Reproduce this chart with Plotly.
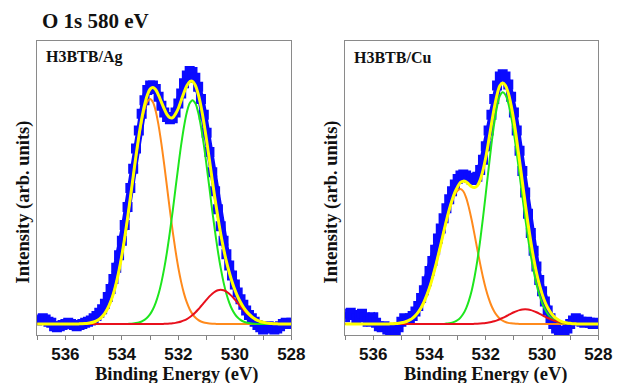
import plotly.graph_objects as go

# Binding energy grid (eV), shared by both panels
ENERGY = [
    537.0, 536.9, 536.8, 536.7, 536.6, 536.5, 536.4, 536.3, 536.2, 536.1,
    536.0, 535.9, 535.8, 535.7, 535.6, 535.5, 535.4, 535.3, 535.2, 535.1,
    535.0, 534.9, 534.8, 534.7, 534.6, 534.5, 534.4, 534.3, 534.2, 534.1,
    534.0, 533.9, 533.8, 533.7, 533.6, 533.5, 533.4, 533.3, 533.2, 533.1,
    533.0, 532.9, 532.8, 532.7, 532.6, 532.5, 532.4, 532.3, 532.2, 532.1,
    532.0, 531.9, 531.8, 531.7, 531.6, 531.5, 531.4, 531.3, 531.2, 531.1,
    531.0, 530.9, 530.8, 530.7, 530.6, 530.5, 530.4, 530.3, 530.2, 530.1,
    530.0, 529.9, 529.8, 529.7, 529.6, 529.5, 529.4, 529.3, 529.2, 529.1,
    529.0, 528.9, 528.8, 528.7, 528.6, 528.5, 528.4, 528.3, 528.2, 528.1,
    528.0,
]

# ---------------- H3BTB/Ag ----------------
AG_DATA = [
    1.5, 2.0, 2.5, 2.0, 1.0, 0.5, -1.0, -1.5, -1.0, -0.5,
    0.0, 0.5, 0.0, -0.5, -1.0, -0.5, 0.0, 0.5, 1.0, 1.5,
    2.5, 3.5, 5.0, 6.5, 9.0, 12.0, 15.5, 20.0, 25.0, 30.5,
    37.0, 44.0, 52.0, 60.5, 69.0, 78.0, 86.0, 93.5, 99.5, 104.0,
    106.0, 106.0, 104.5, 101.0, 97.0, 94.0, 92.0, 91.0, 91.5, 94.0,
    98.0, 102.5, 107.0, 110.5, 112.5, 112.0, 109.5, 105.5, 100.0, 93.0,
    85.0, 76.5, 67.5, 59.0, 51.0, 43.5, 37.0, 31.0, 26.0, 21.5,
    17.5, 14.0, 11.0, 8.5, 6.0, 4.0, 2.5, 1.0, -0.5, -1.5,
    -2.5, -2.0, -1.0, -1.5, -2.5, -2.0, -1.0, 0.0, 0.5, 0.0,
    0.5,
]
AG_ORANGE = [
    0, 0, 0, 0, 0, 0, 0, 0, 0, 0,
    0, 0, 0, 0, 0, 0.05, 0.11, 0.2, 0.33, 0.55,
    0.88, 1.39, 2.16, 3.27, 4.83, 6.97, 9.83, 13.5, 18.2, 23.9,
    30.6, 38.3, 46.9, 56.0, 65.3, 74.4, 82.7, 89.9, 95.4, 98.8,
    100.0, 98.6, 94.6, 88.2, 80.1, 70.7, 60.7, 50.6, 41.1, 32.5,
    24.9, 18.6, 13.5, 9.56, 6.57, 4.39, 2.86, 1.81, 1.11, 0.66,
    0.39, 0.22, 0.12, 0.07, 0, 0, 0, 0, 0, 0,
    0, 0, 0, 0, 0, 0, 0, 0, 0, 0,
    0, 0, 0, 0, 0, 0, 0, 0, 0, 0,
    0,
]
AG_GREEN = [
    0, 0, 0, 0, 0, 0, 0, 0, 0, 0,
    0, 0, 0, 0, 0, 0, 0, 0, 0, 0,
    0, 0, 0, 0, 0, 0, 0, 0, 0, 0,
    0, 0, 0, 0.12, 0.22, 0.39, 0.66, 1.1, 1.8, 2.85,
    4.37, 6.54, 9.51, 13.4, 18.5, 24.8, 32.3, 40.9, 50.3, 60.4,
    70.3, 79.7, 87.8, 94.1, 98.1, 99.5, 98.1, 94.1, 87.8, 79.7,
    70.3, 60.4, 50.3, 40.9, 32.3, 24.8, 18.5, 13.4, 9.51, 6.54,
    4.37, 2.85, 1.8, 1.1, 0.66, 0.39, 0.22, 0.12, 0, 0,
    0, 0, 0, 0, 0, 0, 0, 0, 0, 0,
    0,
]
AG_RED = [
    0, 0, 0, 0, 0, 0, 0, 0, 0, 0,
    0, 0, 0, 0, 0, 0, 0, 0, 0, 0,
    0, 0, 0, 0, 0, 0, 0, 0, 0, 0,
    0, 0, 0, 0, 0, 0, 0, 0, 0, 0,
    0, 0, 0, 0, 0, 0.07, 0.12, 0.19, 0.31, 0.49,
    0.74, 1.09, 1.57, 2.19, 2.99, 3.97, 5.12, 6.43, 7.87, 9.36,
    10.87, 12.25, 13.47, 14.41, 15.0, 15.2, 15.0, 14.41, 13.47, 12.25,
    10.87, 9.36, 7.87, 6.43, 5.12, 3.97, 2.99, 2.19, 1.57, 1.09,
    0.74, 0.49, 0.31, 0.19, 0.12, 0.07, 0, 0, 0, 0,
    0,
]
AG_FIT = [
    0, 0, 0, 0, 0, 0, 0, 0, 0, 0,
    0, 0, 0, 0, 0, 0.05, 0.11, 0.2, 0.33, 0.55,
    0.88, 1.39, 2.16, 3.27, 4.83, 6.97, 9.83, 13.5, 18.2, 23.9,
    30.6, 38.3, 46.9, 56.1, 65.5, 74.8, 83.4, 91.0, 97.2, 101.7,
    104.4, 105.1, 104.1, 101.6, 98.6, 95.6, 93.1, 91.7, 91.7, 93.4,
    95.9, 99.4, 102.9, 105.9, 107.7, 107.9, 106.1, 102.3, 96.8, 89.7,
    81.6, 72.9, 63.9, 55.4, 47.3, 40.0, 33.5, 27.8, 23.0, 18.8,
    15.2, 12.2, 9.67, 7.53, 5.78, 4.36, 3.21, 2.31, 1.57, 1.09,
    0.74, 0.49, 0.31, 0.19, 0.12, 0.07, 0, 0, 0, 0,
    0,
]

# ---------------- H3BTB/Cu ----------------
CU_DATA = [
    3.0, 4.5, 5.0, 4.0, 2.5, 3.5, 4.5, 3.0, 1.0, 2.0,
    3.0, 0.5, -1.0, -1.5, -1.0, -2.5, -3.0, -2.0, -3.0, -1.5,
    1.0, 2.5, 2.0, 2.5, 3.5, 5.5, 8.0, 11.5, 15.0, 19.0,
    23.5, 28.0, 33.0, 38.0, 42.5, 47.0, 51.5, 55.5, 59.0, 62.0,
    64.5, 66.0, 66.5, 66.0, 65.0, 64.0, 64.0, 65.5, 68.5, 73.0,
    79.0, 86.0, 93.0, 100.0, 106.0, 110.0, 111.0, 110.0, 106.5, 101.0,
    94.0, 86.0, 77.0, 68.0, 58.5, 49.0, 40.5, 32.5, 25.5, 19.5,
    14.5, 10.0, 6.0, 2.5, 0.0, -2.0, -3.5, -4.0, -3.0, -2.0,
    0.0, 1.5, 2.5, 2.0, 1.0, 0.5, 1.0, 0.5, 0.0, 0.5,
    0.0,
]
CU_ORANGE = [
    0, 0, 0, 0, 0, 0, 0, 0, 0, 0,
    0, 0, 0, 0, 0, 0, 0.07, 0.12, 0.19, 0.32,
    0.51, 0.79, 1.21, 1.81, 2.63, 3.77, 5.27, 7.2, 9.66, 12.7,
    16.2, 20.3, 25.0, 30.1, 35.3, 40.7, 45.8, 50.5, 54.4, 57.5,
    59.3, 60.0, 59.0, 56.2, 51.7, 46.1, 39.7, 33.1, 26.7, 20.8,
    15.7, 11.5, 8.1, 5.56, 3.67, 2.35, 1.46, 0.87, 0.5, 0.28,
    0.16, 0.08, 0, 0, 0, 0, 0, 0, 0, 0,
    0, 0, 0, 0, 0, 0, 0, 0, 0, 0,
    0, 0, 0, 0, 0, 0, 0, 0, 0, 0,
    0,
]
CU_GREEN = [
    0, 0, 0, 0, 0, 0, 0, 0, 0, 0,
    0, 0, 0, 0, 0, 0, 0, 0, 0, 0,
    0, 0, 0, 0, 0, 0, 0, 0, 0, 0,
    0, 0, 0, 0, 0, 0, 0.18, 0.33, 0.59, 1.03,
    1.74, 2.85, 4.52, 6.96, 10.4, 14.9, 20.9, 28.3, 37.1, 47.2,
    58.0, 69.1, 79.8, 89.2, 96.6, 101.4, 103.0, 101.8, 98.1, 92.3,
    84.8, 75.9, 66.3, 56.7, 47.2, 38.3, 30.4, 23.5, 17.7, 13.1,
    9.41, 6.6, 4.52, 3.03, 1.98, 1.26, 0.78, 0.47, 0.28, 0.16,
    0.09, 0, 0, 0, 0, 0, 0, 0, 0, 0,
    0,
]
CU_RED = [
    0, 0, 0, 0, 0, 0, 0, 0, 0, 0,
    0, 0, 0, 0, 0, 0, 0, 0, 0, 0,
    0, 0, 0, 0, 0, 0, 0, 0, 0, 0,
    0, 0, 0, 0, 0, 0, 0, 0, 0, 0,
    0, 0, 0, 0, 0, 0, 0.07, 0.12, 0.19, 0.29,
    0.43, 0.62, 0.88, 1.21, 1.62, 2.11, 2.67, 3.29, 3.95, 4.6,
    5.21, 5.73, 6.15, 6.41, 6.5, 6.41, 6.15, 5.73, 5.21, 4.6,
    3.95, 3.29, 2.67, 2.11, 1.62, 1.21, 0.88, 0.62, 0.43, 0.29,
    0.19, 0.12, 0.07, 0, 0, 0, 0, 0, 0, 0,
    0,
]
CU_FIT = [
    0, 0, 0, 0, 0, 0, 0, 0, 0, 0,
    0, 0, 0, 0, 0, 0, 0.07, 0.12, 0.19, 0.32,
    0.51, 0.79, 1.21, 1.81, 2.63, 3.77, 5.27, 7.2, 9.66, 12.7,
    16.2, 20.3, 25.0, 30.1, 35.3, 40.7, 46.0, 50.8, 55.0, 58.5,
    61.0, 62.9, 63.5, 63.2, 62.1, 61.0, 60.7, 61.5, 64.0, 68.3,
    74.1, 81.2, 88.8, 96.0, 101.9, 105.9, 107.1, 106.0, 102.6, 97.2,
    90.2, 81.7, 72.5, 63.1, 53.7, 44.7, 36.6, 29.2, 22.9, 17.7,
    13.4, 9.89, 7.19, 5.14, 3.6, 2.47, 1.66, 1.09, 0.71, 0.45,
    0.28, 0.12, 0.07, 0, 0, 0, 0, 0, 0, 0,
    0,
]

TICK_VALUES = [537, 536, 535, 534, 533, 532, 531, 530, 529, 528]
TICK_TEXT = ["", "536", "", "534", "", "532", "", "530", "", "528"]

PANEL_LABELS = ["H3BTB/Ag", "H3BTB/Cu"]
TITLE = "O 1s 580 eV"
X_TITLE = "Binding Energy (eV)"
Y_TITLE = "Intensity (arb. units)"

BLUE = "#0a0aff"
ORANGE = "#ff8a1c"
GREEN = "#1ee61e"
RED = "#e8101c"
YELLOW = "#ffff00"

W, H = 627, 383
SERIF = "Liberation Serif"
SANS = "Liberation Sans"

fig = go.Figure()

panels = [
    ("x", "y", AG_DATA, AG_ORANGE, AG_GREEN, AG_RED, AG_FIT),
    ("x2", "y2", CU_DATA, CU_ORANGE, CU_GREEN, CU_RED, CU_FIT),
]
for xa, ya, data, orange, green, red, fit in panels:
    fig.add_trace(go.Scatter(
        x=ENERGY, y=data, mode="lines+markers", xaxis=xa, yaxis=ya,
        line=dict(color=BLUE, width=7),
        marker=dict(symbol="square", size=10, color=BLUE, line=dict(width=0)),
        showlegend=False, hoverinfo="skip"))
    for ys, col in ((orange, ORANGE), (green, GREEN), (red, RED)):
        fig.add_trace(go.Scatter(
            x=ENERGY, y=ys, mode="lines", xaxis=xa, yaxis=ya,
            line=dict(color=col, width=2, shape="spline"),
            showlegend=False, hoverinfo="skip"))
    fig.add_trace(go.Scatter(
        x=ENERGY, y=fit, mode="lines", xaxis=xa, yaxis=ya,
        line=dict(color=YELLOW, width=3, shape="spline"),
        showlegend=False, hoverinfo="skip"))

y_dom = [1 - 335 / H, 1 - 41 / H]
x_doms = [[38 / W, 298 / W], [353 / W, 612 / W]]

def xaxis_cfg(dom, anchor):
    return dict(
        domain=dom, anchor=anchor, range=[537, 528],
        tickmode="array", tickvals=TICK_VALUES, ticktext=TICK_TEXT,
        ticks="outside", ticklen=4, tickwidth=1, tickcolor="#808080",
        showline=True, mirror=True, linecolor="#8a8a8a", linewidth=1,
        showgrid=False, zeroline=False,
        tickfont=dict(family=SANS, size=17, color="#111111", weight="bold"),
    )

def yaxis_cfg(anchor):
    return dict(
        domain=y_dom, anchor=anchor, range=[-4.9, 125.8],
        showticklabels=False, ticks="", showline=True, mirror=True,
        linecolor="#8a8a8a", linewidth=1, showgrid=False, zeroline=False,
    )

annotations = [
    dict(text=TITLE, x=41 / W, y=1 - 21 / H, xref="paper", yref="paper",
         xanchor="left", yanchor="middle", showarrow=False,
         font=dict(family=SERIF, size=21, color="#111111", weight="bold")),
    dict(text=PANEL_LABELS[0], x=45 / W, y=1 - 57 / H, xref="paper", yref="paper",
         xanchor="left", yanchor="middle", showarrow=False,
         font=dict(family=SERIF, size=16, color="#111111", weight="bold")),
    dict(text=PANEL_LABELS[1], x=360 / W, y=1 - 58 / H, xref="paper", yref="paper",
         xanchor="left", yanchor="middle", showarrow=False,
         font=dict(family=SERIF, size=16, color="#111111", weight="bold")),
    dict(text=Y_TITLE, x=24 / W, y=1 - 202 / H, xref="paper", yref="paper",
         xanchor="center", yanchor="middle", textangle=-90, showarrow=False,
         font=dict(family=SERIF, size=18.5, color="#111111", weight="bold")),
    dict(text=Y_TITLE, x=339 / W, y=1 - 202 / H, xref="paper", yref="paper",
         xanchor="center", yanchor="middle", textangle=-90, showarrow=False,
         font=dict(family=SERIF, size=18.5, color="#111111", weight="bold")),
    dict(text=X_TITLE, x=181 / W, y=1 - 362 / H, xref="paper", yref="paper",
         xanchor="center", yanchor="top", showarrow=False,
         font=dict(family=SERIF, size=18.5, color="#111111", weight="bold")),
    dict(text=X_TITLE, x=497 / W, y=1 - 362 / H, xref="paper", yref="paper",
         xanchor="center", yanchor="top", showarrow=False,
         font=dict(family=SERIF, size=18.5, color="#111111", weight="bold")),
]

fig.update_layout(
    width=W, height=H,
    margin=dict(l=0, r=0, t=0, b=0),
    paper_bgcolor="white", plot_bgcolor="white",
    xaxis=xaxis_cfg(x_doms[0], "y"),
    yaxis=yaxis_cfg("x"),
    xaxis2=xaxis_cfg(x_doms[1], "y2"),
    yaxis2=yaxis_cfg("x2"),
    annotations=annotations,
    showlegend=False,
)

fig.write_html("out.html")
